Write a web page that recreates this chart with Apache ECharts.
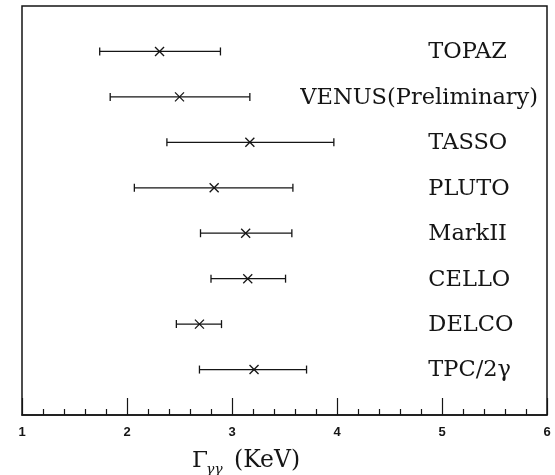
<!DOCTYPE html>
<html><head><meta charset="utf-8">
<script src="https://cdn.jsdelivr.net/npm/echarts@6/dist/echarts.min.js"></script>
<style>html,body{margin:0;padding:0;background:#fff}#c{width:555px;height:475px}</style>
</head><body><div id="c"></div>
<script>
const experiments = ['TOPAZ', 'VENUS(Preliminary)', 'TASSO', 'PLUTO', 'MarkII', 'CELLO', 'DELCO', 'TPC/2γ'];
const centralValues = [2.31, 2.50, 3.17, 2.83, 3.13, 3.15, 2.69, 3.21];
const lowerBounds   = [1.74, 1.84, 2.38, 2.07, 2.70, 2.80, 2.47, 2.69];
const upperBounds   = [2.89, 3.17, 3.97, 3.58, 3.57, 3.51, 2.90, 3.71];
const xTicks = [1, 2, 3, 4, 5, 6];

const INK = '#151515';
const rows = experiments.map((name, i) => [i + 1, lowerBounds[i], centralValues[i], upperBounds[i], name]);

const chart = echarts.init(document.getElementById('c'), null, {renderer: 'canvas'});

function renderItem(params, api) {
  const y = api.value(0);
  const lo = api.coord([api.value(1), y]);
  const c = api.coord([api.value(2), y]);
  const hi = api.coord([api.value(3), y]);
  const cap = 4, m = 4.5;
  const st = {stroke: INK, lineWidth: 1.3};
  const name = experiments[params.dataIndex];
  const long = name.length > 12;
  const lp = long ? api.coord([5.915, y]) : api.coord([4.87, y]);
  return {
    type: 'group',
    children: [
      {type: 'line', shape: {x1: lo[0], y1: lo[1], x2: hi[0], y2: hi[1]}, style: st},
      {type: 'line', shape: {x1: lo[0], y1: lo[1] - cap, x2: lo[0], y2: lo[1] + cap}, style: st},
      {type: 'line', shape: {x1: hi[0], y1: hi[1] - cap, x2: hi[0], y2: hi[1] + cap}, style: st},
      {type: 'line', shape: {x1: c[0] - m, y1: c[1] - m, x2: c[0] + m, y2: c[1] + m}, style: st},
      {type: 'line', shape: {x1: c[0] - m, y1: c[1] + m, x2: c[0] + m, y2: c[1] - m}, style: st},
      {type: 'text', x: lp[0], y: lp[1] + 1,
        style: {text: name, fill: INK, fontSize: 22.5, fontFamily: 'DejaVu Serif',
          align: long ? 'right' : 'left', verticalAlign: 'middle'}}
    ]
  };
}

chart.setOption({
  animation: false,
  backgroundColor: '#fff',
  grid: {left: 22, right: 8, top: 6, bottom: 60, show: true, borderColor: INK, borderWidth: 1.5, backgroundColor: 'transparent'},
  xAxis: {
    type: 'value', min: xTicks[0], max: xTicks[xTicks.length - 1], interval: 1, position: 'bottom',
    axisLine: {show: true, onZero: false, lineStyle: {color: INK, width: 1.5}},
    axisTick: {show: true, inside: true, length: 17, lineStyle: {color: INK, width: 1.2}},
    minorTick: {show: true, splitNumber: 5, length: 6, lineStyle: {color: INK, width: 1.2}},
    splitLine: {show: false},
    axisLabel: {color: INK, fontSize: 13, fontWeight: 'bold', fontFamily: 'Liberation Sans', margin: 11,
      formatter: v => xTicks.includes(v) ? String(v) : ''}
  },
  yAxis: {
    type: 'value', min: 0, max: 9, inverse: true,
    axisLine: {show: false}, axisTick: {show: false}, axisLabel: {show: false}, splitLine: {show: false}
  },
  series: [{
    type: 'custom',
    renderItem: renderItem,
    encode: {x: [1, 2, 3], y: 0},
    data: rows,
    clip: false
  }],
  graphic: [
    {type: 'text', x: 192, y: 461, style: {text: 'Γ', fill: INK, fontSize: 23, fontFamily: 'DejaVu Serif', verticalAlign: 'middle'}},
    {type: 'text', x: 206, y: 470, style: {text: 'γγ', fill: INK, fontSize: 14, fontFamily: 'DejaVu Serif', fontStyle: 'italic', verticalAlign: 'middle'}},
    {type: 'text', x: 234, y: 461, style: {text: '(KeV)', fill: INK, fontSize: 23.5, fontFamily: 'DejaVu Serif', verticalAlign: 'middle'}}
  ]
});
</script></body></html>
